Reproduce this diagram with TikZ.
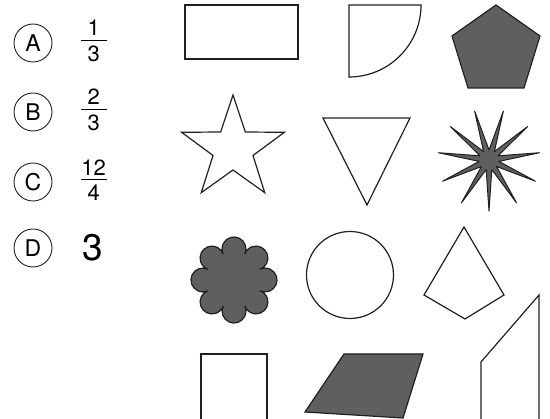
\documentclass[tikz,border=0pt]{standalone}
\usepackage{fontspec}
\setmainfont{TeX Gyre Heros}
\usepackage{xcolor}
\usepackage{tikz}
\usetikzlibrary{positioning}
\definecolor{ink}{HTML}{231F20}
\definecolor{slate}{HTML}{5E5F61}
\newcommand{\frc}[2]{\vbox{\hbox to 26pt{\hss#1\hss}\kern4pt\hrule height 1.3pt\kern4.5pt\hbox to 26pt{\hss#2\hss}}}

\begin{document}
\begin{tikzpicture}[
  x=1pt, y=1pt,
  opt/.style={circle, draw=ink, line width=0.9pt, minimum size=38pt, inner sep=0pt,
              font=\fontsize{23}{23}\selectfont},
  num/.style={inner sep=0pt, font=\fontsize{22}{22}\selectfont},
  big/.style={inner sep=0pt, font=\fontsize{37}{37}\selectfont},
  frm/.style={draw=ink, line width=1.2pt},
  drk/.style={frm, fill=slate},
]
\useasboundingbox (0,0) rectangle (550,419);
\node[opt] (optA) at (33,376) {A};
\node[opt] (optB) at (33,307) {B};
\node[opt] (optC) at (33,237) {C};
\node[opt] (optD) at (33,171) {D};
\node[num, right=28pt of optA, yshift=2pt] (frcA) {\frc{1}{3}};
\node[num, right=28pt of optB, yshift=2pt] (frcB) {\frc{2}{3}};
\node[num, right=28pt of optC, yshift=2pt] (frcC) {\frc{12}{4}};
\node[big, right=30pt of optD] (valD) {3};
\draw[frm] (185,360) rectangle (298,414);
\draw[frm] (349,414) -- (421,414) arc[start angle=0, end angle=-90, radius=72] -- cycle;
\draw[drk] (496,414) -- (540,383) -- (524,331) -- (468,331) -- (452,383) -- cycle;
\draw[frm, shift={(233,270)}] (90:54)
  \foreach \k in {1,...,9}{ -- ({90+36*\k}:{ifthenelse(isodd(\k),21,54)}) } -- cycle;
\draw[frm] (323,301) -- (410,301) -- (367,214) -- cycle;
\draw[drk, line width=1pt, line join=round, shift={(489,259)}] (-90:51)
  \foreach \k in {1,...,21}{ -- ({-90+360/22*\k}:{ifthenelse(isodd(\k),10,51)}) } -- cycle;
\draw[drk, shift={(234,139)}] (67.5:28)
  \foreach \k in {0,...,7}{ arc[start angle={90+45*\k-116}, end angle={90+45*\k+116}, radius=11.93] } -- cycle;
\draw[frm] (350,144) circle[radius=43.5];
\draw[frm] (464,192) -- (504,124) -- (465,100) -- (424,124) -- cycle;
\draw[frm] (201,0) -- (201,65) -- (267,65) -- (267,0);
\draw[drk] (344,65) -- (423,65) -- (403,1) -- (305,7) -- cycle;
\draw[frm] (481,0) -- (481,57) -- (539,124) -- (539,0);
\end{tikzpicture}
\end{document}
